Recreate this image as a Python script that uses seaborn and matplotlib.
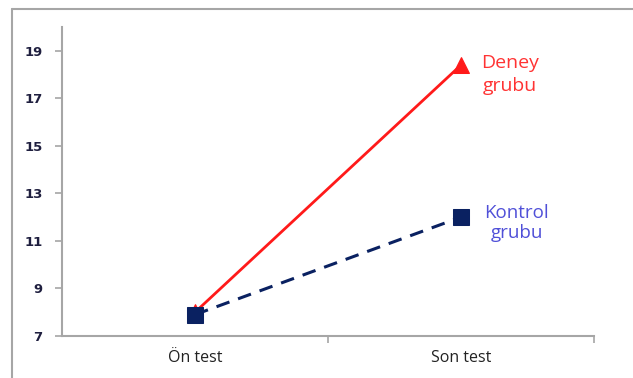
import matplotlib
matplotlib.use("Agg")
import matplotlib.pyplot as plt
import matplotlib.lines as mlines
import seaborn as sns
import pandas as pd

# Test occasions and group means
tests = ["Ön test", "Son test"]
deney = [8.0, 18.4]
kontrol = [7.9, 12.0]
yticks = [7, 9, 11, 13, 15, 17, 19]

sns.set_theme(style="white")
plt.rcParams["font.family"] = ["DejaVu Sans"]

df = pd.DataFrame({
    "pos": [0, 1, 0, 1],
    "score": deney + kontrol,
    "grup": ["Deney", "Deney", "Kontrol", "Kontrol"],
})

fig = plt.figure(figsize=(6.33, 3.78), dpi=100)
ax = fig.add_axes([62 / 633, 1 - 336 / 378, (594 - 62) / 633, (336 - 27) / 378])

sns.lineplot(data=df[df.grup == "Deney"], x="pos", y="score", ax=ax,
             color="#FF1A1A", lw=2, marker="^", markersize=11,
             markeredgecolor="#FF1A1A", zorder=3)
sns.lineplot(data=df[df.grup == "Kontrol"], x="pos", y="score", ax=ax,
             color="#0A2161", lw=2.2, marker="s", markersize=12,
             markeredgecolor="#0A2161", zorder=4)
ax.lines[-1].set_dashes([4.5, 3])

ax.set_xlim(-0.5, 1.5)
ax.set_ylim(7, 20)
ax.set_yticks(yticks)
ax.set_yticklabels([str(v) for v in yticks], fontsize=9.5, fontweight="bold",
                   color="#1F1F3F")
ax.set_xticks([0, 1])
ax.set_xticklabels(tests, fontsize=11.5, family="Open Sans", color="#222222")
ax.set_xticks([0.5, 1.5], minor=True)
ax.tick_params(axis="x", which="major", bottom=False, length=0, pad=10)
ax.tick_params(axis="x", which="minor", bottom=True, length=5, width=1.2,
               color="#A6A6A6", direction="out")
ax.tick_params(axis="y", left=True, length=5, width=1.2, color="#A6A6A6",
               direction="out", pad=9)
ax.set_xlabel("")
ax.set_ylabel("")
if ax.get_legend():
    ax.get_legend().remove()

for side in ["top", "right"]:
    ax.spines[side].set_visible(False)
for side in ["left", "bottom"]:
    ax.spines[side].set_color("#A6A6A6")
    ax.spines[side].set_linewidth(1.5)

ax.text(1.185, 18.0, "Deney\ngrubu", color="#FF3333", fontsize=14,
        family="Open Sans", ha="center", va="center", linespacing=1.35)
ax.text(1.21, 11.75, "Kontrol\ngrubu", color="#5050D8", fontsize=13.5,
        family="Open Sans", ha="center", va="center", linespacing=1.1)

# Outer frame (left and top edges)
fig.add_artist(mlines.Line2D([12 / 633, 12 / 633], [0, 1 - 9 / 378],
                             transform=fig.transFigure, color="#A6A6A6", lw=1.5))
fig.add_artist(mlines.Line2D([12 / 633, 1], [1 - 9 / 378, 1 - 9 / 378],
                             transform=fig.transFigure, color="#A6A6A6", lw=1.5))

fig.savefig("out.png", dpi=100)
